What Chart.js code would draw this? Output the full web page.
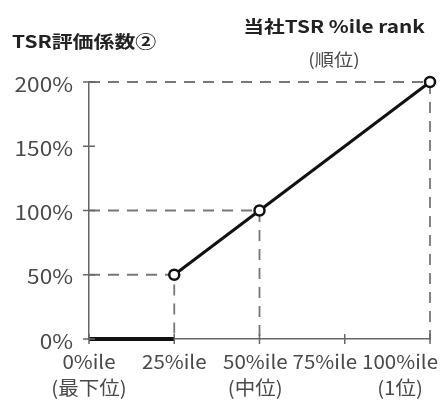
<!DOCTYPE html>
<html>
<head>
<meta charset="utf-8">
<script src="https://cdn.jsdelivr.net/npm/chart.js@4"></script>
<style>
  html, body { margin: 0; padding: 0; background: #fff; }
  #wrap { width: 440px; height: 400px; }
</style>
</head>
<body>
<div id="wrap"><canvas id="tsr"></canvas></div>
<script>
const xTicks = [0, 25, 50, 75, 100];
const xTickLabels = [["0%ile", "(最下位)"], ["25%ile"], ["50%ile", "(中位)"], ["75%ile"], ["100%ile", "(1位)"]];
const yTicks = [0, 50, 100, 150, 200];
const floorX = [0, 25];
const floorY = [0, 0];
const rankX = [25, 50, 100];
const coefY = [50, 100, 200];
const yTitle = "TSR評価係数②";
const xTitle = ["当社TSR %ile rank", "(順位)"];

const FONT = "'Noto Sans CJK JP', 'Noto Sans', sans-serif";
const STRETCH = 1.13; // the reference text is a bit wider than Noto

// dashed guides: from y axis across to the point, then down to the x axis
const guides = rankX.map((x, i) => ({
  type: "line",
  data: [{ x: 0, y: coefY[i] }, { x: x, y: coefY[i] }, { x: x, y: 0 }],
  borderColor: "#777",
  borderWidth: 1.8,
  borderDash: [11, 8],
  pointRadius: 0,
  order: 3,
  clip: false,
}));

function wideText(ctx, text, x, y, align, sx) {
  ctx.save();
  ctx.translate(x, y);
  ctx.scale(sx, 1);
  ctx.textAlign = align;
  ctx.fillText(text, 0, 0);
  ctx.restore();
}

const textPlugin = {
  id: "texts",
  afterDraw(chart) {
    const ctx = chart.ctx;
    const xs = chart.scales.x;
    const ys = chart.scales.y;
    const { left, bottom } = chart.chartArea;
    ctx.save();

    // tick marks crossing both axes
    ctx.strokeStyle = "#666";
    ctx.lineWidth = 1.5;
    ctx.beginPath();
    xTicks.forEach((v) => {
      const px = xs.getPixelForValue(v);
      ctx.moveTo(px, bottom - 5);
      ctx.lineTo(px, bottom + 5);
    });
    yTicks.forEach((v) => {
      const py = ys.getPixelForValue(v);
      ctx.moveTo(left - 6, py);
      ctx.lineTo(left + 6, py);
    });
    ctx.stroke();

    // y tick labels
    ctx.fillStyle = "#4a4a4a";
    ctx.font = "20px " + FONT;
    ctx.textBaseline = "middle";
    yTicks.forEach((v) => {
      wideText(ctx, v + "%", left - 16, ys.getPixelForValue(v) + 2, "right", STRETCH);
    });

    // x tick labels, placed right to left so they never overlap or leave the canvas
    const xs_ = 1.08;
    ctx.font = "19px " + FONT;
    let limit = chart.width - 2;
    for (let i = xTicks.length - 1; i >= 0; i--) {
      const lines = xTickLabels[i];
      const w = Math.max(...lines.map((l) => ctx.measureText(l).width)) * xs_;
      let cx = xs.getPixelForValue(xTicks[i]);
      if (cx + w / 2 > limit) cx = limit - w / 2;
      lines.forEach((l, j) => {
        wideText(ctx, l, cx, bottom + 23 + j * 26, "center", xs_);
      });
      limit = cx - w / 2 - 5;
    }

    // titles
    ctx.fillStyle = "#222";
    ctx.font = "bold 17px " + FONT;
    wideText(ctx, yTitle, 12, 42, "left", 1.23);
    wideText(ctx, xTitle[0], 334, 27, "center", 1.22);
    ctx.fillStyle = "#4a4a4a";
    ctx.font = "17px " + FONT;
    wideText(ctx, xTitle[1], 334, 60, "center", STRETCH);
    ctx.restore();
  },
};

new Chart(document.querySelector("#tsr"), {
  type: "line",
  data: {
    datasets: [
      {
        data: floorX.map((x, i) => ({ x: x, y: floorY[i] })),
        borderColor: "#111",
        borderWidth: 4,
        pointRadius: 0,
        order: 1,
        clip: false,
      },
      {
        data: rankX.map((x, i) => ({ x: x, y: coefY[i] })),
        borderColor: "#111",
        borderWidth: 3,
        pointRadius: 5,
        pointBorderWidth: 2.5,
        pointBackgroundColor: "#fff",
        pointBorderColor: "#111",
        order: 0,
        clip: false,
      },
      ...guides,
    ],
  },
  options: {
    responsive: true,
    maintainAspectRatio: false,
    animation: false,
    layout: { padding: { top: 82, right: 10, bottom: 53, left: 81 } },
    plugins: {
      legend: { display: false },
      tooltip: { enabled: false },
    },
    scales: {
      x: {
        type: "linear",
        min: 0,
        max: 100,
        afterBuildTicks: (s) => { s.ticks = xTicks.map((v) => ({ value: v })); },
        ticks: { display: false },
        grid: { display: false },
        border: { color: "#666", width: 1.5 },
      },
      y: {
        min: 0,
        max: 200,
        afterBuildTicks: (s) => { s.ticks = yTicks.map((v) => ({ value: v })); },
        ticks: { display: false },
        grid: { display: false },
        border: { color: "#666", width: 1.5 },
      },
    },
  },
  plugins: [textPlugin],
});
</script>
</body>
</html>
